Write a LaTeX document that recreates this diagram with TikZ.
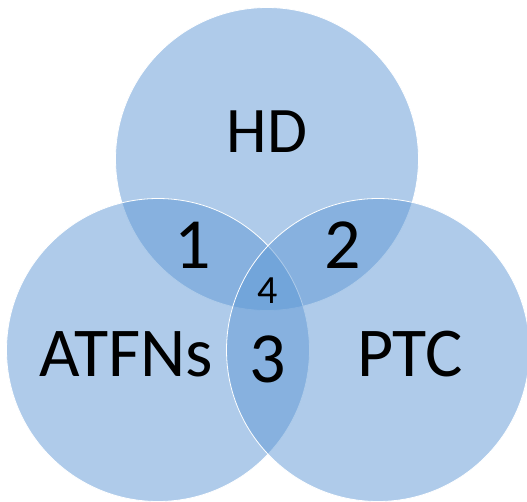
\documentclass[tikz,border=0pt]{standalone}
\usepackage{fontspec}
\setmainfont{Carlito}
\usetikzlibrary{positioning}
\definecolor{setblue}{RGB}{95,152,213}

\begin{document}
\begin{tikzpicture}[x=1pt,y=-1pt,
    setcircle/.style={circle,minimum size=303pt,inner sep=0pt,fill=setblue,fill opacity=0.5,draw=white,line width=0.8pt},
    bigtext/.style={font=\fontsize{70}{70}\selectfont,text=black,inner sep=0pt},
    numtext/.style={font=\fontsize{72}{72}\selectfont,text=black,inner sep=0pt}]
      \useasboundingbox (0,0) rectangle (527,501);
      % the three sets
      \node[setcircle] (hd) at (267,159) {};
      \node[setcircle] (atfns) at (158,350) {};
      \node[setcircle] (ptc) at (378,350) {};
      % set names
      \node[bigtext,font=\fontsize{65}{65}\selectfont] (hdlabel) at (267,132) {HD};
      \node[bigtext] (atfnslabel) at (126,354) {ATFNs};
      \node[bigtext] (ptclabel) at (410,354) {PTC};
      % overlaps
      \node[numtext] (one) at (193,245) {1};
      \node[numtext] (two) at (343,245) {2};
      \node[numtext] (three) at (268,359) {3};
      \node[numtext,font=\fontsize{40}{40}\selectfont] (four) at (268,291) {4};
    \end{tikzpicture}
\end{document}
